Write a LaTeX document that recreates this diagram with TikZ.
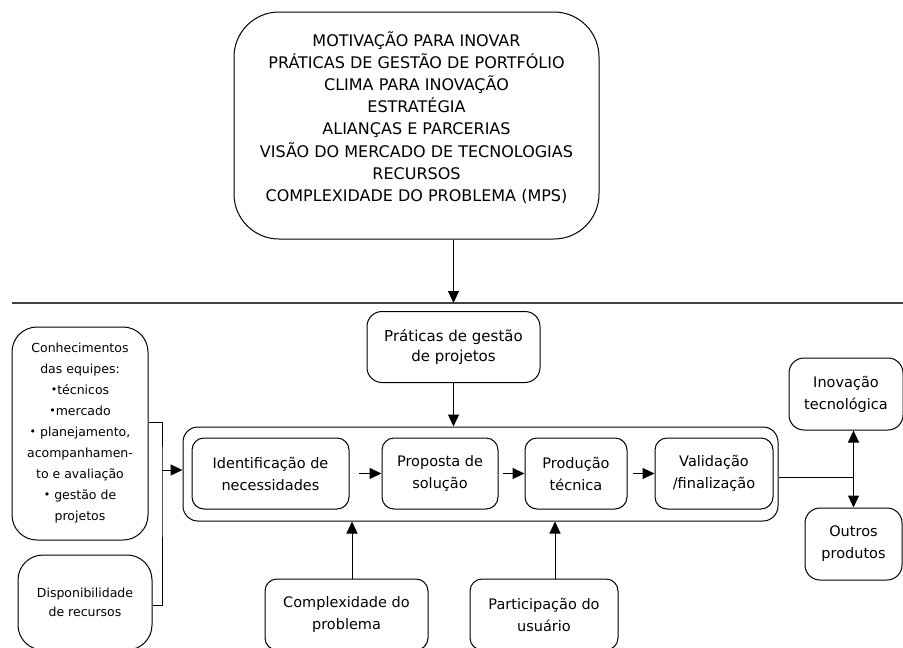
\documentclass[tikz,border=0pt]{standalone}
\usepackage{fontspec}
\setmainfont{DejaVu Sans}
\usetikzlibrary{arrows.meta}
\newcommand{\marcador}[0]{\raisebox{0.25ex}{\fontsize{11}{11}\selectfont\textbullet}}
\newcommand{\larguraLinha}[0]{1pt}

\begin{document}
\begin{tikzpicture}[x=1pt, y=-1pt, line width=\larguraLinha]
  \tikzset{
    caixa/.style={draw, rounded corners=15pt, align=center, inner sep=0pt},
    etapa/.style={caixa, rounded corners=12pt, minimum height=71pt,
      font=\fontsize{14.5}{22}\selectfont},
    lateral/.style={caixa, rounded corners=25pt, font=\fontsize{12.5}{21}\selectfont},
    seta/.style={-{Triangle[length=12pt, width=11pt]}}
  }
  \useasboundingbox (0,0) rectangle (903,648);
  \node[caixa, rounded corners=45pt, minimum width=365pt, minimum height=227pt] (topo) at (416.5,125.5) {};
  \node[align=center, font=\fontsize{16}{22.2}\selectfont] (topoTexto) at ([yshift=8]topo.center)
    {MOTIVAÇÃO PARA INOVAR\\PRÁTICAS DE GESTÃO DE PORTFÓLIO\\CLIMA PARA INOVAÇÃO\\ESTRATÉGIA\\ALIANÇAS E PARCERIAS\\VISÃO DO MERCADO DE TECNOLOGIAS\\RECURSOS\\COMPLEXIDADE DO PROBLEMA (MPS)};
  \coordinate (sepE) at (12,303);
  \coordinate (sepD) at (903,303);
  \draw[black!75, line width=1.3pt] (sepE) -- (sepD);
  \node[caixa, minimum width=173pt, minimum height=71pt,
    font=\fontsize{15}{20}\selectfont] (praticas) at (453.5,347)
    {Práticas de gestão\\de projetos};
  \node[caixa, minimum width=595pt, minimum height=94pt] (externo) at (480.5,474) {};
  \node[etapa, minimum width=157pt] (ident) at (270.5,473.5) {Identificação de\\necessidades};
  \node[etapa, minimum width=116pt] (proposta) at (440,473.5) {Proposta de\\solução};
  \node[etapa, minimum width=102pt] (producao) at (576,473.5) {Produção\\técnica};
  \node[etapa, minimum width=118pt] (validacao) at (714,473.5) {Validação\\/finalização};
  \node[lateral, minimum width=136pt, minimum height=213pt] (conhec) at (80,433.5)
    {Conhecimentos\\das equipes:\\\marcador técnicos\\\marcador mercado\\\marcador{} planejamento,\\acompanhamen-\\to e avaliação\\\marcador{} gestão de\\projetos};
  \node[lateral, minimum width=134pt, minimum height=95pt,
    font=\fontsize{12.5}{19}\selectfont] (dispon) at (85,602.5)
    {Disponibilidade\\de recursos};
  \node[etapa, rounded corners=15pt, minimum width=114pt, minimum height=72pt] (inovacao) at (846,394)
    {Inovação\\tecnológica};
  \node[etapa, rounded corners=15pt, minimum width=97pt, minimum height=72pt] (outros) at (853.5,544)
    {Outros\\produtos};
  \node[etapa, minimum width=163pt] (complex) at (346.5,614.5) {Complexidade do\\problema};
  \node[etapa, minimum width=148pt] (particip) at (544,614.5) {Participação do\\usuário};
  \coordinate (junta) at (162,470);

  \draw[seta] (praticas.north |- topo.south) -- (praticas.north |- sepE);
  \draw[seta] (praticas.south) -- (praticas.south |- externo.north);
  \draw[seta] ([xshift=9]ident.east) -- (proposta.west);
  \draw[seta] ([xshift=4]proposta.east) -- (producao.west);
  \draw[seta] ([xshift=5]producao.east) -- (validacao.west);
  \draw ([yshift=11.5]conhec.east) -| (junta) |- ([yshift=-2.5]dispon.east);
  \draw[seta] (junta) -- (junta -| externo.west);
  \draw ([yshift=-3]externo.east) -- ([yshift=-3]externo.east -| outros.north);
  \draw[{Triangle[length=12pt, width=11pt]}-{Triangle[length=12pt, width=11pt]}]
    (outros.north |- inovacao.south) -- (outros.north);
  \draw[seta] ([xshift=5.5]complex.north) -- ([xshift=5.5]complex.north |- externo.south);
  \draw[seta] ([xshift=11]particip.north) -- ([xshift=11]particip.north |- externo.south);
\end{tikzpicture}
\end{document}
